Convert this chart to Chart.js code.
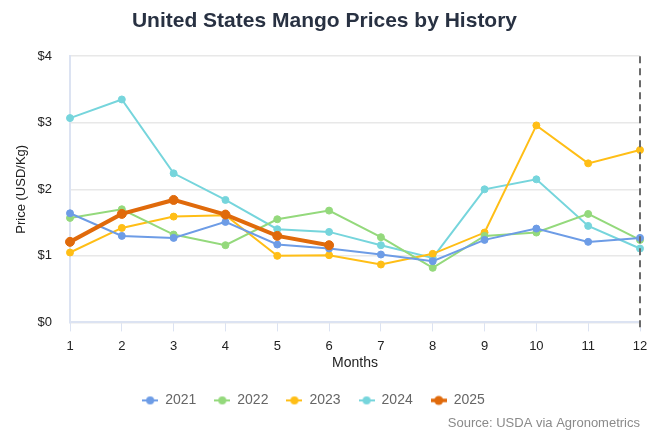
<!DOCTYPE html>
<html>
<head>
<meta charset="utf-8">
<script src="https://cdn.jsdelivr.net/npm/chart.js@4"></script>
<style>
	html, body { margin: 0; padding: 0; background: #ffffff; }
	#wrap { width: 650px; height: 433px; }
</style>
</head>
<body>
<div id="wrap"><canvas id="mangoChart" width="650" height="433"></canvas></div>
<script>
// months on the x axis
const months = ['1', '2', '3', '4', '5', '6', '7', '8', '9', '10', '11', '12'];
const yearLabels = ['2021', '2022', '2023', '2024', '2025'];

// USD/Kg
const prices2021 = [1.64, 1.30, 1.27, 1.51, 1.17, 1.11, 1.02, 0.92, 1.24, 1.41, 1.21, 1.27];
const prices2022 = [1.57, 1.70, 1.32, 1.16, 1.55, 1.68, 1.28, 0.82, 1.30, 1.35, 1.63, 1.24];
const prices2023 = [1.05, 1.42, 1.59, 1.61, 1.00, 1.01, 0.87, 1.03, 1.35, 2.96, 2.39, 2.59];
const prices2024 = [3.07, 3.35, 2.24, 1.84, 1.40, 1.36, 1.16, 0.97, 2.00, 2.15, 1.45, 1.11];
const prices2025 = [1.21, 1.63, 1.84, 1.62, 1.30, 1.16];

const yTicks = [0, 1, 2, 3, 4];
const markerMonth = '12';

const colors = ['#6d9ce6', '#94d97c', '#ffbe16', '#76d5dc', '#e06a0b'];

// little line+dot swatch for the legend
function swatch (color, thick) {
	const c = document.createElement('canvas');
	c.width = 16;
	c.height = 12;
	const g = c.getContext('2d');
	g.strokeStyle = color;
	g.lineWidth = thick ? 3.5 : 2;
	g.beginPath();
	g.moveTo(0, 6);
	g.lineTo(16, 6);
	g.stroke();
	g.fillStyle = color;
	g.beginPath();
	g.arc(8, 6, thick ? 4.5 : 4, 0, Math.PI * 2);
	g.fill();
	return c;
}

const series = [prices2021, prices2022, prices2023, prices2024, prices2025];
const datasets = series.map((values, i) => {
	const bold = i === 4;
	return {
		label: yearLabels[i],
		data: values,
		borderColor: colors[i],
		backgroundColor: colors[i],
		borderWidth: bold ? 4 : 2,
		pointRadius: bold ? 4.5 : 3.5,
		pointBorderWidth: 1,
		pointHoverRadius: 5,
		fill: false,
		tension: 0,
		order: bold ? 0 : 1,
	};
});

// dashed vertical line at the current month
const markerLine = {
	id: 'markerLine',
	afterLayout (chart) {
		// nudge legend a bit, the source sits under it
		const lg = chart.legend;
		lg.left -= 11;
		lg.right -= 11;
		lg.top += 2;
		lg.bottom += 2;
	},
	afterDatasetsDraw (chart) {
		const x = chart.scales.x.getPixelForValue(months.indexOf(markerMonth));
		const area = chart.chartArea;
		const ctx = chart.ctx;
		ctx.save();
		ctx.strokeStyle = '#6b6b6b';
		ctx.lineWidth = 2;
		ctx.setLineDash([7, 5]);
		ctx.beginPath();
		ctx.moveTo(x, area.top);
		ctx.lineTo(x, area.bottom + 8);
		ctx.stroke();
		ctx.restore();
	},
};

const ctx = document.getElementById('mangoChart').getContext('2d');
const chart = new Chart(ctx, {
	type: 'line',
	data: {
		labels: months,
		datasets: datasets,
	},
	options: {
		responsive: false,
		animation: false,
		layout: { padding: { left: 9, right: 10, top: 4, bottom: 2 } },
		plugins: {
			title: {
				display: true,
				text: 'United States Mango Prices by History',
				color: '#283142',
				font: { family: 'Liberation Sans', size: 21, weight: 'bold' },
				padding: { top: 5, bottom: 22 },
			},
			subtitle: {
				display: true,
				position: 'bottom',
				align: 'end',
				text: 'Source: USDA via Agronometrics',
				color: '#8a8a8a',
				font: { family: 'Liberation Sans', size: 13 },
				padding: { top: 0, bottom: 0 },
			},
			legend: {
				position: 'bottom',
				labels: {
					usePointStyle: true,
					pointStyleWidth: 16,
					color: '#666666',
					font: { family: 'Liberation Sans', size: 14 },
					padding: 18,
					generateLabels (c) {
						return c.data.datasets.map((ds, i) => ({
							text: ds.label,
							fillStyle: ds.borderColor,
							strokeStyle: ds.borderColor,
							fontColor: '#666666',
							pointStyle: swatch(ds.borderColor, i === 4),
							lineWidth: 0,
							hidden: !c.isDatasetVisible(i),
							datasetIndex: i,
						}));
					},
				},
			},
			tooltip: { enabled: false },
		},
		scales: {
			x: {
				afterFit (axis) {
					axis.height = 51;
					axis.paddingRight = 10;
				},
				title: {
					display: true,
					text: 'Months',
					color: '#222222',
					font: { family: 'Liberation Sans', size: 14 },
					padding: { top: 0, bottom: 2 },
				},
				grid: {
					drawOnChartArea: false,
					drawTicks: true,
					tickLength: 9,
					color: '#dce3f2',
				},
				border: { color: '#dce3f2', width: 2 },
				ticks: {
					color: '#222222',
					font: { family: 'Liberation Sans', size: 13 },
					padding: 7,
				},
			},
			y: {
				min: 0,
				max: 4,
				afterBuildTicks (axis) {
					axis.ticks = yTicks.map(v => ({ value: v }));
				},
				afterFit (axis) {
					axis.width = 61;
				},
				title: {
					display: true,
					text: 'Price (USD/Kg)',
					color: '#222222',
					font: { family: 'Liberation Sans', size: 13 },
					padding: { top: 5, bottom: 4 },
				},
				grid: {
					color: '#e8e8e8',
					lineWidth: 1.5,
					drawTicks: false,
				},
				border: { color: '#dce3f2', width: 2 },
				ticks: {
					color: '#222222',
					font: { family: 'Liberation Sans', size: 13 },
					padding: 18,
					callback: v => '$' + v,
				},
			},
		},
	},
	plugins: [markerLine],
});
</script>
</body>
</html>
